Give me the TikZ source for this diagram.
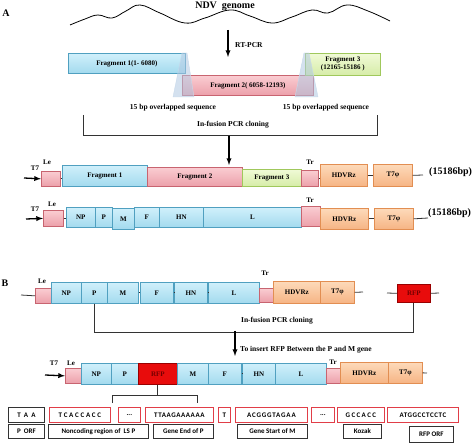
\documentclass[tikz,border=0pt]{standalone}
\usepackage{fontspec}
\setmainfont{Liberation Serif}
\newfontfamily\seqfont{Carlito}
\usetikzlibrary{arrows,positioning,shadows}

\definecolor{blueA}{RGB}{208,240,251}
\definecolor{blueB}{RGB}{163,218,238}
\definecolor{blueD}{RGB}{80,160,192}
\definecolor{pinkA}{RGB}{250,205,210}
\definecolor{pinkB}{RGB}{236,160,170}
\definecolor{pinkD}{RGB}{200,100,112}
\definecolor{orA}{RGB}{253,218,186}
\definecolor{orB}{RGB}{246,180,132}
\definecolor{orD}{RGB}{226,142,82}
\definecolor{grA}{RGB}{240,250,214}
\definecolor{grB}{RGB}{214,236,168}
\definecolor{grD}{RGB}{160,200,92}
\definecolor{rfpred}{RGB}{232,12,12}
\definecolor{seqline}{RGB}{225,62,72}
\definecolor{trapfill}{RGB}{176,200,226}

\begin{document}
\begin{tikzpicture}[x=1pt, y=-1pt,
  sz/.style 2 args={minimum width=#1, minimum height=#2},
  box/.style={draw, anchor=north west, inner sep=0pt, line width=0.7pt,
    font=\fontsize{7}{8}\selectfont\bfseries},
  gene/.style={box, draw=blueD, top color=blueA, bottom color=blueB},
  pinkbox/.style={box, draw=pinkD, top color=pinkA, bottom color=pinkB},
  greenbox/.style={box, draw=grD, top color=grA, bottom color=grB},
  orbox/.style={box, draw=orD, top color=orA, bottom color=orB},
  redbox/.style={box, draw=red!60!black, fill=rfpred, text=red!45!black},
  seqbox/.style={draw, anchor=north west, inner sep=0pt, line width=0.8pt, fill=white,
    font=\seqfont\fontsize{7}{8}\selectfont\bfseries},
  seqred/.style={seqbox, draw=seqline},
  seqblk/.style={seqbox, draw=black!80},
  namebox/.style={seqbox, draw=black!80, drop shadow={shadow xshift=0.8pt, shadow yshift=-0.8pt, opacity=0.7}},
  txt/.style={inner sep=0pt, font=\fontsize{7.5}{8}\selectfont\bfseries},
  lbl/.style={inner sep=0pt, font=\fontsize{7}{8}\selectfont\bfseries},
  big/.style={inner sep=0pt, font=\fontsize{10}{11}\selectfont\bfseries},
  arr/.style={-latex, line width=1.3pt},
  link/.style={line width=0.8pt, black!80},
  overlap/.style={fill=trapfill, fill opacity=0.55, draw=trapfill!70!white, line width=0.4pt}]
\useasboundingbox (0,0) rectangle (474,446);

% part A
\node[big] (labA) at (6,13) {A};
\node[big] (ndv) at (225,6) {NDV\ \ genome};
\draw[line width=0.8pt] plot[smooth, tension=0.7] coordinates {(70,25) (85,19) (98,15) (112,18) (126,11) (140,5) (160,13) (185,23) (205,18) (230,10) (250,16) (272,23) (292,17) (312,10) (328,13) (347,5) (368,11) (390,21)};
\coordinate (rtTop) at (228,30);
\coordinate (rtBot) at (228,57);
\draw[arr] (rtTop) -- (rtBot);
\node[txt, anchor=west] (rtpcr) at (235,45) {RT-PCR};

\node[gene, sz={117}{20}] (frag1) at (68,53) {Fragment 1(1- 6080)};
\node[pinkbox, sz={131}{20}] (frag2) at (182,75) {Fragment 2( 6058-12193)};
\node[greenbox, sz={75}{22}, align=center] (frag3) at (305,53) {Fragment 3\\(12165-15186 )};
\fill[overlap] (182,53) -- (187,53) -- (194,97) -- (173,97) -- cycle;
\fill[overlap] (304,53) -- (309,53) -- (318,97) -- (295,97) -- cycle;
\node[txt] (ovl1) at (173,108) {15 bp overlapped sequence};
\node[txt] (ovl2) at (326,108) {15 bp overlapped sequence};

\coordinate (brA1) at (83,115);
\coordinate (brA2) at (377,115);
\draw[link] (brA1) -- ++(0,20) -| (brA2);
\node[txt] (clonA) at (233,125) {In-fusion PCR cloning};
\coordinate (arA) at (229,136);
\coordinate (arAe) at (229,165);
\draw[arr] (arA) -- (arAe);

% row with fragments
\node[lbl] (t7a) at (35,168) {T7};
\node[lbl] (lea) at (47,162) {Le};
\node[pinkbox, sz={19}{15}] (le1) at (41,171) {};
\coordinate (ar1) at (24,178);
\draw[arr] (ar1) -- (le1.west);
\node[gene, sz={85}{21}] (f1a) at (62,165) {Fragment 1};
\node[pinkbox, sz={95}{19}] (f2a) at (147,167) {Fragment 2};
\node[greenbox, sz={59}{17}] (f3a) at (242,169) {Fragment 3};
\node[pinkbox, sz={17}{16}] (tr1) at (301,170) {};
\node[lbl] (tra) at (310,162) {Tr};
\node[orbox, sz={47}{22}] (hdv1) at (320,164) {HDVRz};
\node[orbox, sz={39}{22}] (t7p1) at (373,164) {T7φ};
\coordinate (endA1) at (423,175);
\draw[link] (le1.east) -- (f1a.west |- le1.east);
\draw[link] (tr1.east) -- (hdv1.west |- tr1.east);
\draw[link] (hdv1.east) -- (t7p1.west);
\draw[link] (t7p1.east) -- (endA1);
\node[big, anchor=west] (bpA1) at (429,172) {(15186bp)};

% row with genes
\node[lbl] (t7b) at (35,209) {T7};
\node[lbl] (leb) at (52,204) {Le};
\node[pinkbox, sz={20}{16}] (le2) at (43,210) {};
\coordinate (ar2) at (26,219);
\draw[arr] (ar2) -- (le2.west);
\node[gene, sz={29}{20}] (np2) at (66,207) {NP};
\node[gene, sz={17}{20}] (p2) at (95,207) {P};
\node[gene, sz={22}{21}] (m2) at (112,208) {M};
\node[gene, sz={25}{20}] (fg2) at (134,207) {F};
\node[gene, sz={44}{20}] (hn2) at (159,207) {HN};
\node[gene, sz={98}{20}] (l2) at (203,207) {L};
\node[pinkbox, sz={19}{20}] (tr2) at (301,206) {};
\node[lbl] (trb) at (310,200) {Tr};
\node[orbox, sz={48}{21}] (hdv2) at (320,208) {HDVRz};
\node[orbox, sz={39}{21}] (t7p2) at (374,208) {T7φ};
\coordinate (endA2) at (428,218);
\draw[link] (le2.east) -- (np2.west |- le2.east);
\draw[link] (hdv2.east) -- (t7p2.west);
\draw[link] (t7p2.east) -- (endA2);
\node[big, anchor=west] (bpA2) at (428,213) {(15186bp)};

% part B
\node[big] (labB) at (5,283) {B};
\coordinate (stB) at (21,295);
\node[lbl] (leBl) at (42,281) {Le};
\node[pinkbox, sz={16}{15}] (leB) at (35,288) {};
\node[gene, sz={30}{21}] (npB) at (51,282) {NP};
\node[gene, sz={26}{21}] (pB) at (81,282) {P};
\node[gene, sz={31}{21}] (mB) at (107,282) {M};
\node[gene, sz={33}{21}] (fB) at (140,282) {F};
\node[gene, sz={33}{21}] (hnB) at (174,282) {HN};
\node[gene, sz={51}{21}] (lB) at (208,282) {L};
\node[pinkbox, sz={17}{14}] (trB) at (259,288) {};
\node[lbl] (trBl) at (265,273) {Tr};
\node[orbox, sz={47}{22}] (hdvB) at (273,281) {HDVRz};
\node[orbox, sz={34}{22}] (t7pB) at (320,281) {T7φ};
\node[redbox, sz={33}{18}] (rfpB) at (397,284) {RFP};
\coordinate (endB) at (363,292);
\coordinate (rfpL) at (387,293);
\coordinate (rfpR) at (439,293);
\draw[link] (stB) -- (leB.west);
\draw[link] (mB.east) -- (fB.west);
\draw[link] (fB.east) -- (hnB.west);
\draw[link] (hnB.east) -- (lB.west);
\draw[link] (t7pB.east) -- (endB);
\draw[link] (rfpL) -- (rfpB.west);
\draw[link] (rfpB.east) -- (rfpR);
\draw[link] (pB.south) -- ++(0,29) -| (rfpB.south);
\node[txt] (clonB) at (277,321) {In-fusion PCR cloning};
\coordinate (arB) at (235,331);
\coordinate (arBe) at (235,356);
\draw[arr] (arB) -- (arBe);
\node[txt, anchor=west] (insert) at (240,350) {To insert RFP Between the P and M gene};

% recombinant row
\node[lbl] (t7c) at (54,363) {T7};
\node[lbl] (lec) at (71,363) {Le};
\node[pinkbox, sz={16}{15}] (leC) at (65,368) {};
\coordinate (ar3) at (45,375);
\draw[arr] (ar3) -- (leC.west);
\node[gene, sz={30}{21}] (npC) at (81,363) {NP};
\node[gene, sz={27}{21}] (pC) at (111,363) {P};
\node[redbox, sz={39}{21}] (rfpC) at (138,363) {RFP};
\node[gene, sz={31}{21}] (mC) at (177,363) {M};
\node[gene, sz={33}{21}] (fC) at (208,363) {F};
\node[gene, sz={33}{21}] (hnC) at (242,363) {HN};
\node[gene, sz={51}{21}] (lC) at (275,363) {L};
\node[pinkbox, sz={15}{15}] (trC) at (326,368) {};
\node[lbl] (trCl) at (333,362) {Tr};
\node[orbox, sz={48}{21}] (hdvC) at (340,362) {HDVRz};
\node[orbox, sz={34}{21}] (t7pC) at (388,362) {T7φ};
\coordinate (endC) at (427,373);
\draw[link] (fC.east) -- (hnC.west);
\draw[link] (t7pC.east) -- (endC);

% bracket under RFP
\coordinate (brC1) at (112,403);
\coordinate (brC2) at (197,403);
\draw[link] (rfpC.south) -- ++(0,11);
\draw[link] (brC1) -- ++(0,-8) -| (brC2);

% sequence
\node[seqblk, sz={36}{15}] (s1) at (8,407) {T\ \ A\ \ A};
\node[seqred, sz={61}{15}] (s2) at (49,407) {\addfontfeatures{LetterSpace=25}TCACCACC};
\node[seqred, sz={22}{15}] (s3) at (118,407) {...};
\node[seqred, sz={68}{15}] (s4) at (145,407) {\addfontfeatures{LetterSpace=8}TTAAGAAAAAA};
\node[seqred, sz={12}{15}] (s5) at (218,407) {T};
\node[seqred, sz={72}{15}] (s6) at (235,407) {\addfontfeatures{LetterSpace=12}ACGGGTAGAA};
\node[seqred, sz={23}{15}] (s7) at (311,407) {...};
\node[seqred, sz={47}{15}] (s8) at (337,407) {\addfontfeatures{LetterSpace=20}GCCACC};
\node[seqred, sz={71}{15}] (s9) at (387,407) {\addfontfeatures{LetterSpace=8}ATGGCCTCCTC};

\node[namebox, sz={36}{14}] (n1) at (8,424) {P\ \ ORF};
\node[namebox, sz={100}{14}] (n2) at (48,424) {Noncoding region of\ \ LS P};
\node[namebox, sz={60}{14}] (n3) at (153,424) {Gene End of P};
\node[namebox, sz={70}{14}] (n4) at (237,424) {Gene Start of M};
\node[namebox, sz={38}{14}] (n5) at (343,424) {Kozak};
\node[namebox, sz={44}{16}] (n6) at (409,426) {RFP ORF};
\end{tikzpicture}
\end{document}
